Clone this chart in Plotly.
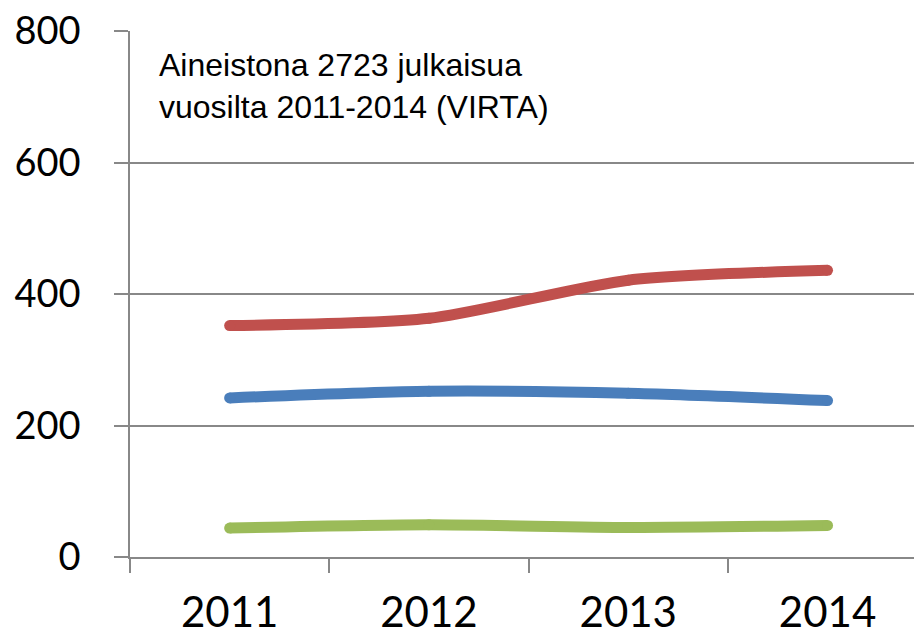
import plotly.graph_objects as go

years = ["2011", "2012", "2013", "2014"]
red_values = [352, 363, 421, 436]
blue_values = [242, 252, 249, 238]
green_values = [44, 49, 45, 48]
y_ticks = [0, 200, 400, 600, 800]
note_lines = ["Aineistona 2723 julkaisua", "vuosilta 2011-2014 (VIRTA)"]

fig = go.Figure()
for vals, col in [(red_values, "#C0504D"), (blue_values, "#4A7EBB"), (green_values, "#9BBB59")]:
    fig.add_trace(go.Scatter(
        x=years, y=vals, mode="lines+markers",
        line=dict(color=col, width=11, shape="spline", smoothing=0.7),
        marker=dict(color=col, size=11, line=dict(width=0)),
        showlegend=False, hoverinfo="skip",
    ))

fig.add_annotation(
    x=0, y=1, xref="paper", yref="paper", xanchor="left", yanchor="top",
    xshift=27, yshift=-14,
    text="<br>".join(note_lines), showarrow=False, align="left",
    font=dict(family="Liberation Sans, Arial", size=32, color="#000000"),
)

fig.update_layout(
    width=914, height=627,
    margin=dict(l=122, r=0, t=23, b=78),
    paper_bgcolor="white", plot_bgcolor="white",
    xaxis=dict(
        type="category", range=[-0.5, 3.474], automargin=False,
        showgrid=False, showline=True, linecolor="#888888", linewidth=2,
        ticks="outside", tickson="boundaries", ticklen=14, tickwidth=1.5, tickcolor="#888888",
        tickfont=dict(family="Lato, Open Sans", size=42, color="#000000"),
        ticklabelstandoff=18, ticklabeloverflow="allow",
    ),
    yaxis=dict(
        range=[0, 800], tickvals=y_ticks, automargin=False,
        showgrid=True, gridcolor="#888888", gridwidth=1.5,
        showline=True, linecolor="#888888", linewidth=1.5,
        ticks="outside", ticklen=14, tickwidth=1.5, tickcolor="#888888",
        tickfont=dict(family="Lato, Open Sans", size=38, color="#000000"),
        ticklabelstandoff=26, ticklabeloverflow="allow", zeroline=False,
    ),
)

fig.write_html("out.html")
